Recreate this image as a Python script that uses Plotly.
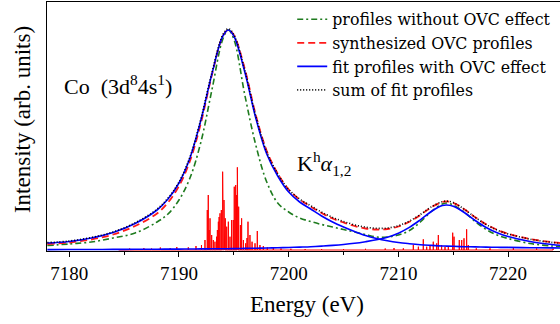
import plotly.graph_objects as go

# ---- data (arb. units) ----
energy = [7178, 7180, 7182, 7184, 7186, 7188, 7189, 7190, 7191, 7192, 7193, 7194, 7194.5,
          7195, 7196, 7197, 7198, 7199, 7200, 7201, 7202, 7203, 7204, 7205, 7206, 7207,
          7208, 7209, 7210, 7211, 7212, 7213, 7214, 7214.4, 7215, 7216, 7217, 7218, 7219,
          7220, 7222, 7224, 7225]

profiles_without_ovc = [4.5, 6, 8, 12, 17, 28, 36, 50, 72, 108, 160, 211, 220,
                        211, 155, 105, 68, 47, 38, 32, 28.5, 25.5, 23, 20.5, 18, 15.5,
                        13, 13, 15, 19.5, 28, 38.5, 46, 47, 45, 38, 28.5, 20.5, 15,
                        11.5, 6.5, 4, 3.5]

synthesized_ovc = [6, 7.5, 10.5, 15.5, 24, 36.5, 47.5, 64, 89, 127, 175, 214, 220,
                   215, 181, 135, 99, 76.5, 60.5, 50.5, 43.5, 37, 31.5, 27.5, 24, 21.5,
                   20.5, 21, 23.5, 28.2, 35, 42.8, 48, 48.6, 47.2, 40.8, 32.8, 25.6, 20.2,
                   16.3, 11, 7.8, 6.8]

fit_ka1 = [7, 8.5, 12, 17.5, 26.5, 40, 51, 67, 92, 130, 176, 214, 220,
           214, 178, 132, 96, 74, 58, 48, 41, 34, 28, 23, 18.5, 14.5,
           11.5, 9.2, 7.5, 6.3, 5.3, 4.6, 4, 3.9, 3.7, 3.3, 3.1, 2.9, 2.7,
           2.6, 2.3, 2.1, 2.0]

fit_ka2 = [0.4, 0.5, 0.5, 0.6, 0.7, 0.8, 0.85, 0.9, 1.0, 1.1, 1.2, 1.3, 1.3,
           1.4, 1.6, 1.8, 2.0, 2.2, 2.5, 2.9, 3.3, 3.9, 4.6, 5.5, 6.7, 8.3,
           10.2, 12.8, 16.8, 22.6, 30.2, 38.5, 44.4, 45, 43.7, 37.5, 29.5, 22.5, 17.2,
           13.5, 8.5, 5.5, 4.5]

sum_of_fits = [7.4, 9.0, 12.5, 18.1, 27.2, 40.8, 51.9, 67.9, 93, 131.1, 177.2, 215.3, 221.3,
               215.4, 179.6, 133.8, 98, 76.2, 60.5, 50.9, 44.3, 37.9, 32.6, 28.5, 25.2, 22.8,
               21.7, 22.0, 24.3, 28.9, 35.5, 43.1, 48.4, 48.9, 47.4, 40.8, 32.6, 25.4, 19.9,
               16.1, 10.8, 7.6, 6.5]

stick_energy = [7184.5, 7185.5, 7186.8, 7187.5, 7188.3, 7189.2, 7189.8, 7190.85, 7191.55, 7192.05,
                7192.37, 7192.58, 7192.67, 7192.75, 7192.83, 7192.98, 7193.13, 7193.28, 7193.43,
                7193.5, 7193.59, 7193.66, 7193.74, 7193.86, 7193.98, 7194.04, 7194.1, 7194.16,
                7194.22, 7194.35, 7194.5, 7194.65, 7194.8, 7194.95, 7195.04, 7195.17, 7195.25,
                7195.32, 7195.38, 7195.44, 7195.6, 7195.71, 7195.87, 7196.08, 7196.2, 7196.29,
                7196.47, 7196.66, 7196.93, 7197.14, 7197.38, 7197.69, 7198.05, 7198.6, 7199.3,
                7200.2, 7201.5, 7203, 7205, 7207, 7208.8, 7209.6, 7210.45, 7211.36, 7211.82,
                7212.27, 7212.58, 7212.88, 7213.18, 7213.49, 7213.64, 7213.94, 7214.25, 7214.55,
                7214.95, 7215.07, 7215.55, 7215.77, 7215.98, 7216.22, 7216.37, 7217.1, 7218.35,
                7220.48, 7222.6, 7224.1]
stick_height = [1.0, 1.5, 2.0, 1.5, 2.5, 2.0, 3.0, 2.7, 4, 5,
                10, 40, 55, 20, 31.7, 15, 10, 8.3, 13.3,
                20, 28.3, 33, 36.7, 40, 78.3, 45, 50, 38,
                31.7, 23.3, 28.3, 13.3, 30, 30, 63.3, 65, 55,
                82.7, 48, 43.3, 25, 31.7, 10, 6.7, 12, 28.3,
                15, 8.3, 6.7, 19, 5, 4, 2.7, 2, 1.5,
                1.2, 1.0, 1.0, 1.0, 1.2, 1.5, 2, 1.7, 5, 3.3,
                10.7, 3.3, 5, 8.3, 6.7, 15, 5, 3.3, 4,
                17.3, 13.3, 10, 10, 11.7, 20.7, 5, 1.7, 1.7,
                2.3, 1.7, 1.3]

x_ticks = [7180, 7190, 7200, 7210, 7220]
x_minor_ticks = [7185, 7195, 7205, 7215]

FONT = "Liberation Serif"
LEGEND_FONT = "DejaVu Serif"

fig = go.Figure()

# stick spectrum (impulses joined along zero)
sx, sy = [], []
for e, h in sorted(zip(stick_energy, stick_height)):
    sx += [e, e, e]
    sy += [0, h, 0]
fig.add_trace(go.Scatter(x=sx, y=sy, mode="lines", line=dict(color="#ff0000", width=1),
                         showlegend=False, hoverinfo="skip"))

fig.add_trace(go.Scatter(x=energy, y=profiles_without_ovc, mode="lines",
                         name="profiles without OVC effect",
                         line=dict(color="#1e7b1e", width=1.6, dash="6px,3px,2px,3px", shape="spline")))
fig.add_trace(go.Scatter(x=energy, y=synthesized_ovc, mode="lines",
                         name="synthesized OVC profiles",
                         line=dict(color="#ff1a1a", width=1.8, dash="7px,4px", shape="spline")))
fig.add_trace(go.Scatter(x=energy, y=fit_ka1, mode="lines", legendgroup="fit",
                         name="fit profiles with OVC effect",
                         line=dict(color="#0000ff", width=1.6, shape="spline")))
fig.add_trace(go.Scatter(x=energy, y=fit_ka2, mode="lines", legendgroup="fit",
                         name="fit profiles with OVC effect", showlegend=False,
                         line=dict(color="#0000ff", width=1.6, shape="spline")))
fig.add_trace(go.Scatter(x=energy, y=sum_of_fits, mode="lines",
                         name="sum of fit profiles",
                         line=dict(color="black", width=1.6, dash="1px,2px", shape="spline")))

fig.update_layout(
    width=560, height=324,
    margin=dict(l=47, r=0, t=2, b=73),
    paper_bgcolor="white", plot_bgcolor="white",
    font=dict(family=FONT, color="black", size=19),
    legend=dict(x=0.478, xanchor="left", y=0.998, yanchor="top",
                bgcolor="rgba(0,0,0,0)", borderwidth=0,
                font=dict(family=LEGEND_FONT, size=15.8, color="black"),
                tracegroupgap=0),
    xaxis=dict(range=[7177.97, 7224.73], tickmode="array", tickvals=x_ticks,
               ticks="outside", ticklen=5, tickwidth=1, tickcolor="black",
               minor=dict(tickmode="array", tickvals=x_minor_ticks,
                          ticks="outside", ticklen=3, tickwidth=1, tickcolor="black"),
               showline=True, linecolor="black", linewidth=1, mirror=True,
               showgrid=False, zeroline=False,
               tickfont=dict(family=FONT, size=19, color="black")),
    yaxis=dict(range=[-1, 248], showticklabels=False, ticks="",
               showline=True, linecolor="black", linewidth=1,
               showgrid=False, zeroline=False),
    annotations=[
        dict(text="Energy (eV)", xref="paper", yref="paper", x=0.507, y=-0.213,
             xanchor="center", yanchor="middle", showarrow=False,
             font=dict(family=FONT, size=23)),
        dict(text="Intensity (arb. units)", xref="paper", yref="paper", x=-0.0487, y=0.526,
             xanchor="center", yanchor="middle", textangle=-90, showarrow=False,
             font=dict(family=FONT, size=23)),
        dict(text="Co  (3d<sup>8</sup>4s<sup>1</sup>)", xref="x", yref="y", x=7179.3, y=165,
             xanchor="left", yanchor="middle", showarrow=False,
             font=dict(family=FONT, size=22)),
        dict(text="K<sup>h</sup><i>α</i><sub>1,2</sub>", xref="x", yref="y", x=7200.6, y=87,
             xanchor="left", yanchor="middle", showarrow=False,
             font=dict(family=FONT, size=22)),
    ],
)

fig.write_html("out.html",
               config={"displayModeBar": False},
               post_script="document.body.style.margin='0px';document.body.style.padding='0px';")
